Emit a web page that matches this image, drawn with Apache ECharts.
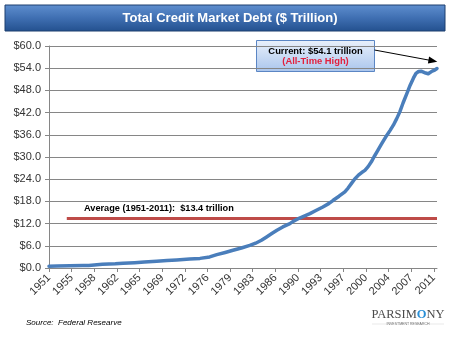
<!DOCTYPE html>
<html>
<head>
<meta charset="utf-8">
<script src="https://cdn.jsdelivr.net/npm/echarts@6/dist/echarts.min.js"></script>
<style>
html,body{margin:0;padding:0;background:#fff;}
#c{width:456px;height:339px;}
</style>
</head>
<body>
<div id="c"></div>
<script>
// ---- data ----
var years = [1951.75, 1953, 1955, 1957, 1957.9, 1958.2, 1960, 1962, 1963.2, 1965, 1966.5, 1968.4, 1970, 1971.5, 1973.5, 1975.1, 1976.6, 1977.7, 1979, 1980.2, 1981.5, 1982.8, 1983.7, 1984.6, 1985.4, 1986.2, 1987, 1987.9, 1989, 1989.5, 1990.5, 1991.3, 1992.1, 1993.1, 1994.1, 1995, 1995.7, 1996.6, 1997.5, 1998, 1998.5, 1999, 1999.6, 2000.1, 2000.6, 2001.1, 2001.6, 2002, 2002.6, 2003.2, 2004, 2004.5, 2005, 2005.5, 2006, 2006.5, 2007.1, 2007.6, 2008.1, 2008.5, 2008.9, 2009.3, 2009.6, 2010, 2010.4, 2010.7, 2011, 2011.4, 2011.75];
var debt  = [0.5, 0.55, 0.6, 0.65, 0.7, 0.9, 1.0, 1.15, 1.3, 1.45, 1.6, 1.8, 2.0, 2.15, 2.4, 2.6, 3.0, 3.6, 4.2, 4.8, 5.4, 6.1, 6.7, 7.5, 8.4, 9.3, 10.2, 11.1, 12.0, 12.6, 13.5, 14.1, 14.7, 15.6, 16.5, 17.4, 18.3, 19.4, 20.6, 21.6, 22.8, 24.0, 25.1, 25.8, 26.4, 27.4, 28.7, 30.0, 31.8, 33.6, 35.9, 37.2, 38.6, 40.3, 42.2, 44.6, 47.2, 49.4, 51.3, 52.6, 53.1, 53.2, 53.0, 52.7, 52.5, 52.8, 53.2, 53.5, 53.9];

var avgYears = [1954.5, 2011.75];
var avgValue = 13.4;

var xTickYears  = [1951.75, 1955.25, 1958.75, 1962.25, 1965.75, 1969.25, 1972.75, 1976.25, 1979.75, 1983.25, 1986.75, 1990.25, 1993.75, 1997.25, 2000.75, 2004.25, 2007.75, 2011.25];
var xTickLabels = ['1951','1955','1958','1962','1965','1969','1972','1976','1979','1983','1986','1990','1993','1997','2000','2004','2007','2011'];
var yTickValues = [0, 6, 12, 18, 24, 30, 36, 42, 48, 54, 60];
var yTickLabels = ['$0.0','$6.0','$12.0','$18.0','$24.0','$30.0','$36.0','$42.0','$48.0','$54.0','$60.0'];

var titleText = 'Total Credit Market Debt ($ Trillion)';
var avgText = 'Average (1951-2011):  $13.4 trillion';
var calloutLine1 = 'Current: $54.1 trillion';
var calloutLine2 = '(All-Time High)';
var sourceText = 'Source:  Federal Researve';

var mainData = years.map(function (y, i) { return [y, debt[i]]; });
var avgData = avgYears.map(function (y) { return [y, avgValue]; });

var chart = echarts.init(document.getElementById('c'), null, {renderer: 'canvas'});
var axisGray = '#868686';
var txt = '#333333';

chart.setOption({
  animation: false,
  backgroundColor: '#ffffff',
  grid: {left: 49, right: 19, top: 46, bottom: 71},
  xAxis: {
    type: 'value',
    min: 1951.75,
    max: 2011.75,
    axisLine: {show: true, lineStyle: {color: axisGray, width: 1}},
    axisTick: {show: true, customValues: xTickYears, length: 4, lineStyle: {color: axisGray}},
    axisLabel: {
      customValues: xTickYears,
      rotate: 45,
      margin: 8,
      fontFamily: 'Liberation Sans, Arial, sans-serif',
      fontSize: 11,
      color: txt,
      formatter: function (v) {
        var i = xTickYears.indexOf(v);
        return i >= 0 ? xTickLabels[i] : '';
      }
    },
    splitLine: {show: false}
  },
  yAxis: {
    type: 'value',
    min: 0,
    max: 60,
    interval: 6,
    axisLine: {show: true, lineStyle: {color: axisGray, width: 1}},
    axisTick: {show: true, inside: false, length: 4, lineStyle: {color: axisGray}},
    axisLabel: {
      margin: 8,
      fontFamily: 'Liberation Sans, Arial, sans-serif',
      fontSize: 11,
      color: txt,
      formatter: function (v) {
        var i = yTickValues.indexOf(v);
        return i >= 0 ? yTickLabels[i] : '';
      }
    },
    splitLine: {show: true, lineStyle: {color: axisGray, width: 1}}
  },
  series: [
    {
      type: 'line',
      data: avgData,
      showSymbol: false,
      lineStyle: {color: '#be4b48', width: 3},
      z: 2
    },
    {
      type: 'line',
      data: mainData,
      showSymbol: false,
      smooth: false,
      lineStyle: {color: '#4a7ebb', width: 3.5, cap: 'round', join: 'round'},
      z: 3
    }
  ],
  graphic: [
    {
      type: 'rect',
      shape: {x: 5, y: 5, width: 440, height: 26},
      style: {
        fill: new echarts.graphic.LinearGradient(0, 0, 0, 1, [
          {offset: 0, color: '#5f8fcf'},
          {offset: 0.5, color: '#3f6fb2'},
          {offset: 1, color: '#23508e'}
        ]),
        stroke: '#1d3f6e',
        lineWidth: 1
      }
    },
    {
      type: 'text',
      x: 230, y: 18,
      style: {
        text: titleText,
        fill: '#ffffff',
        font: 'bold 13px "Liberation Sans", Arial, sans-serif',
        align: 'center',
        verticalAlign: 'middle'
      }
    },
    {
      type: 'text',
      x: 84, y: 208,
      style: {
        text: avgText,
        fill: '#000000',
        font: 'bold 9.2px "Liberation Sans", Arial, sans-serif',
        align: 'left',
        verticalAlign: 'middle'
      }
    },
    {
      type: 'rect',
      shape: {x: 256.5, y: 40.5, width: 118, height: 31},
      style: {
        fill: new echarts.graphic.LinearGradient(0, 0, 0, 1, [
          {offset: 0, color: '#eaf1fb'},
          {offset: 1, color: '#a9c5ed'}
        ]),
        stroke: '#5b86c4',
        lineWidth: 1
      }
    },
    {
      type: 'text',
      x: 315.5, y: 51,
      style: {
        text: calloutLine1,
        fill: '#000000',
        font: 'bold 9.4px "Liberation Sans", Arial, sans-serif',
        align: 'center',
        verticalAlign: 'middle'
      }
    },
    {
      type: 'text',
      x: 315.5, y: 61,
      style: {
        text: calloutLine2,
        fill: '#e3203c',
        font: 'bold 9.4px "Liberation Sans", Arial, sans-serif',
        align: 'center',
        verticalAlign: 'middle'
      }
    },
    {
      type: 'line',
      shape: {x1: 374.5, y1: 50, x2: 430, y2: 60.3},
      style: {stroke: '#000000', lineWidth: 1}
    },
    {
      type: 'polygon',
      shape: {points: [[437.3, 61.7], [427.9, 63.6], [429.1, 56.6]]},
      style: {fill: '#000000'}
    },
    {
      type: 'text',
      x: 26, y: 323,
      style: {
        text: sourceText,
        fill: '#000000',
        font: 'italic 8px "Liberation Sans", Arial, sans-serif',
        align: 'left',
        verticalAlign: 'middle'
      }
    },
    {
      type: 'text',
      x: 408, y: 315,
      style: {
        text: '{a|PARSIM}{b|O}{a|NY}',
        align: 'center',
        verticalAlign: 'middle',
        rich: {
          a: {fontFamily: '"Liberation Serif", "Times New Roman", serif', fontSize: 12.5, fill: '#4a4a4a', color: '#4a4a4a'},
          b: {fontFamily: '"Liberation Serif", "Times New Roman", serif', fontSize: 12.5, fill: '#2a8fd6', color: '#2a8fd6', fontWeight: 'bold'}
        }
      }
    },
    {
      type: 'line',
      shape: {x1: 372, y1: 324, x2: 444, y2: 324},
      style: {stroke: '#d0d0d0', lineWidth: 0.5}
    },
    {
      type: 'text',
      x: 408, y: 324.5,
      style: {
        text: 'INVESTMENT RESEARCH',
        fill: '#666666',
        backgroundColor: '#ffffff',
        font: '3.5px "Liberation Sans", Arial, sans-serif',
        align: 'center',
        verticalAlign: 'middle'
      }
    }
  ]
});
</script>
</body>
</html>
